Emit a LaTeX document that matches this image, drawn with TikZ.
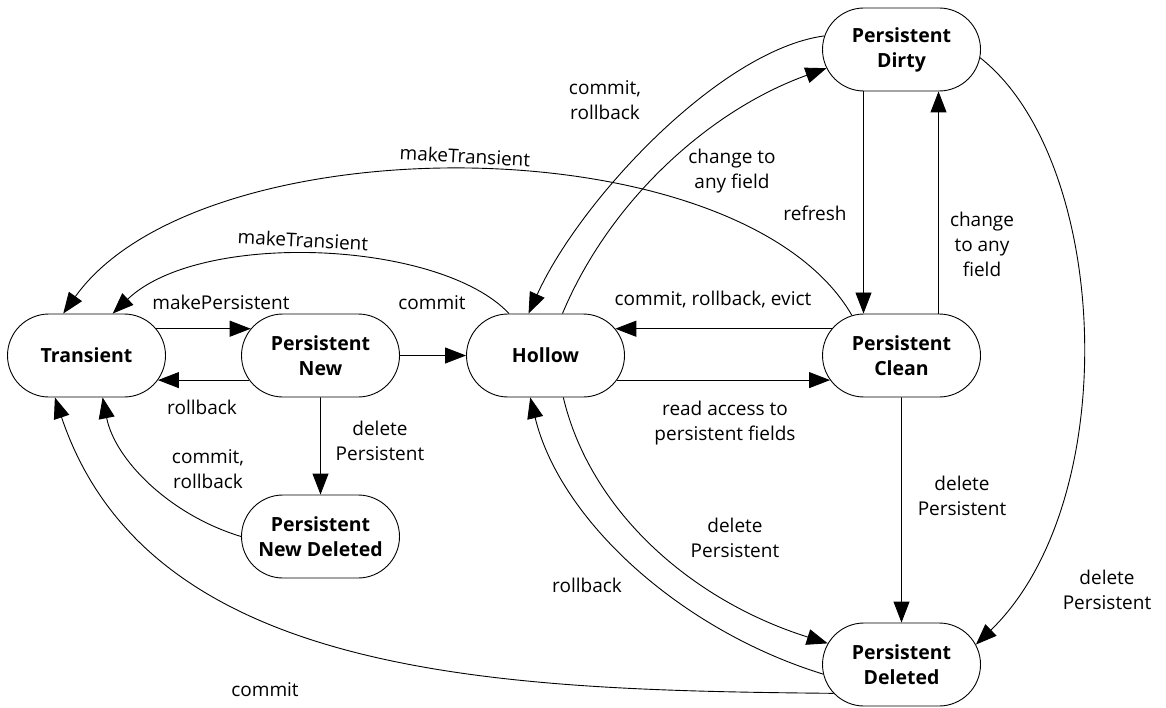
\documentclass[tikz,border=0pt]{standalone}
\usepackage{fontspec}
\setmainfont{Open Sans}
\usetikzlibrary{arrows.meta,shapes.misc}

\begin{document}
\begin{tikzpicture}[x=1pt,y=-1pt,
  state/.style={rounded rectangle, draw, line width=0.9pt, minimum width=158pt,
    minimum height=83pt, inner sep=0pt, align=center,
    font=\bfseries\fontsize{19.5}{25}\selectfont},
  lbl/.style={inner sep=0pt, align=center, font=\fontsize{19}{25}\selectfont},
  tr/.style={draw, line width=0.9pt, -{Triangle[length=21pt,width=16pt]}}]
\useasboundingbox (0,0) rectangle (1166,708);

% states
\node [state] (trans)   at (86.5,355.5)  {Transient};
\node [state] (pnew)    at (320.5,355.5) {Persistent\\New};
\node [state] (hollow)  at (545.5,355.5) {Hollow};
\node [state] (pclean)  at (901.5,355.5) {Persistent\\Clean};
\node [state] (pdirty)  at (901.5,49.5)  {Persistent\\Dirty};
\node [state] (pnewdel) at (320.5,536.5) {Persistent\\New Deleted};
\node [state] (pdel)    at (901.5,664.5) {Persistent\\Deleted};

% straight transitions
\draw [tr] (trans.21) -- (pnew.159);
\draw [tr] (pnew.199) -- (trans.341);
\draw [tr] (pnew) -- (hollow);
\draw [tr] (pnew) -- (pnewdel);
\draw [tr] (pclean.159) -- (hollow.21);
\draw [tr] (hollow.341) -- (pclean.199);
\draw [tr] ([xshift=-38pt]pdirty.south) -- ([xshift=-38pt]pclean.north);
\draw [tr] ([xshift=37pt]pclean.north) -- ([xshift=37pt]pdirty.south);
\draw [tr] (pclean) -- (pdel);

% curved transitions
\draw [tr] (hollow.131) .. controls (440,240) and (200,230) .. (trans.58);
\draw [tr] (pclean.141) .. controls (740,122) and (200,122) .. (trans.119);
\draw [tr] (pdirty.170) .. controls (720,50) and (580,200) .. (hollow.112);
\draw [tr] (hollow.68) .. controls (610,200) and (710,110) .. (pdirty.194);
\draw [tr] (pdirty.354) .. controls (1110,160) and (1125,500) .. (pdel.15);
\draw [tr] (hollow.293) .. controls (590,510) and (690,600) .. (pdel.164);
\draw [tr] (pdel.187) .. controls (680,630) and (560,520) .. (hollow.250);
\draw [tr] (pdel.203) .. controls (500,690) and (150,680) .. (trans.233);
\draw [tr] (pnewdel.west) .. controls (170,515) and (115,460) .. (trans.291);

% labels
\node [lbl] (lmkp)   at (221,302)  {makePersistent};
\node [lbl] (lrb1)   at (202,407)  {rollback};
\node [lbl] (lcm1)   at (432,303)  {commit};
\node [lbl] (lcr1)   at (208,469)  {commit,\\rollback};
\node [lbl] (ldel1)  at (380,441)  {delete\\Persistent};
\node [lbl, rotate=-3] (lmkt1) at (303,240) {makeTransient};
\node [lbl, rotate=-3] (lmkt2) at (465,156) {makeTransient};
\node [lbl] (lcr2)   at (605,100)  {commit,\\rollback};
\node [lbl] (lchg1)  at (732,171)  {change to\\any field};
\node [lbl] (lref)   at (815,213)  {refresh};
\node [lbl] (lchg2)  at (982,244)  {change\\to any\\field};
\node [lbl] (lcre)   at (713,300)  {commit, rollback, evict};
\node [lbl] (lread)  at (725,423)  {read access to\\persistent fields};
\node [lbl] (ldel2)  at (962,496)  {delete\\Persistent};
\node [lbl] (ldel3)  at (735,538)  {delete\\Persistent};
\node [lbl] (lrb2)   at (587,585)  {rollback};
\node [lbl] (ldel4)  at (1107,590) {delete\\Persistent};
\node [lbl] (lcm2)   at (265,690)  {commit};
\end{tikzpicture}
\end{document}
